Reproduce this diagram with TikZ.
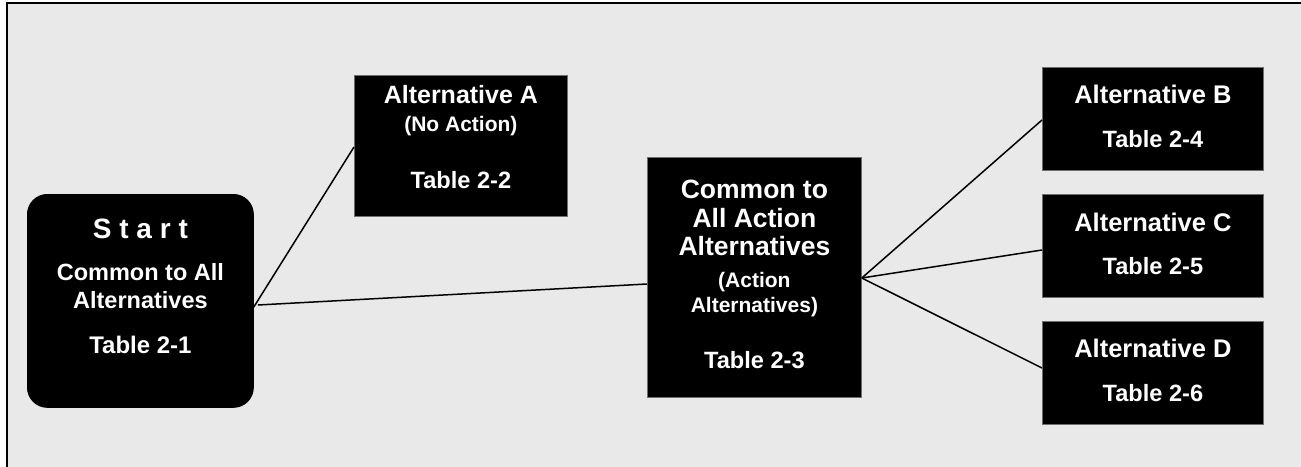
\documentclass[tikz,border=0pt]{standalone}
\usepackage{fontspec}
\setmainfont{Liberation Sans}
\definecolor{bg}{RGB}{233,233,233}
\definecolor{edge}{RGB}{110,110,110}
\begin{document}
\begin{tikzpicture}[x=1pt,y=-1pt,
  box/.style={fill=black,draw=edge,line width=0.8pt,inner sep=0pt,anchor=north west},
  txt/.style={text=white,anchor=base,inner sep=0pt},
  fs/.style={font=\bfseries\fontsize{#1}{#1}\selectfont},
  link/.style={line width=1.5pt,draw=black}]
\useasboundingbox (0,0) rectangle (1301,466);
\clip (0,0) rectangle (1301,466);
\fill[white] (0,0) rectangle (1301,466);
\draw[fill=bg,line width=2.5pt] (7,3) rectangle (1330,500);

% boxes
\node[box,draw=black,minimum width=226pt,minimum height=213pt,rounded corners=20pt] (start) at (27,194) {};
\node[box,minimum width=213pt,minimum height=141pt] (altA) at (354,75) {};
\node[box,minimum width=214pt,minimum height=240pt] (common) at (647,157) {};
\node[box,minimum width=221pt,minimum height=103pt] (altB) at (1042,67) {};
\node[box,minimum width=221pt,minimum height=103pt] (altC) at (1042,194) {};
\node[box,minimum width=221pt,minimum height=103pt] (altD) at (1042,321) {};

% connectors
\draw[link] (start.east |- 0,307) -- (altA.west |- 0,147);
\draw[link] ([xshift=4pt]start.east |- 0,305) -- (common.west |- 0,284);
\coordinate (hub) at (common.east |- 0,278);
\draw[link] (hub) -- (altB.west |- 0,120);
\draw[link] (hub) -- (altC.west |- 0,250);
\draw[link] (hub) -- (altD.west |- 0,368);

% start texts
\node[txt,fs=28] (st1) at (start.north |- 0,238) {S t a r t};
\node[txt,fs=23.5] (st2) at (start.north |- 0,280) {Common to All};
\node[txt,fs=23.5] (st3) at (start.north |- 0,308) {Alternatives};
\node[txt,fs=24] (st4) at (start.north |- 0,353) {Table 2-1};

% alternative A
\node[txt,fs=25] (a1) at (altA.north |- 0,103) {Alternative A};
\node[txt,fs=21] (a2) at (altA.north |- 0,131) {(No Action)};
\node[txt,fs=23.6] (a3) at (altA.north |- 0,188) {Table 2-2};

% common to action alternatives
\node[txt,fs=26.5] (c1) at (common.north |- 0,198) {Common to};
\node[txt,fs=26.5] (c2) at (common.north |- 0,227) {All Action};
\node[txt,fs=26.5] (c3) at (common.north |- 0,255) {Alternatives};
\node[txt,fs=21] (c4) at (common.north |- 0,287) {(Action};
\node[txt,fs=21] (c5) at (common.north |- 0,312) {Alternatives)};
\node[txt,fs=23.6] (c6) at (common.north |- 0,368) {Table 2-3};

% B, C, D
\node[txt,fs=25.5] (b1) at (altB.north |- 0,103) {Alternative B};
\node[txt,fs=23.6] (b2) at (altB.north |- 0,147) {Table 2-4};
\node[txt,fs=25.5] (cc1) at (altC.north |- 0,231) {Alternative C};
\node[txt,fs=23.6] (cc2) at (altC.north |- 0,274) {Table 2-5};
\node[txt,fs=25.5] (d1) at (altD.north |- 0,357) {Alternative D};
\node[txt,fs=23.6] (d2) at (altD.north |- 0,401) {Table 2-6};
\end{tikzpicture}
\end{document}
